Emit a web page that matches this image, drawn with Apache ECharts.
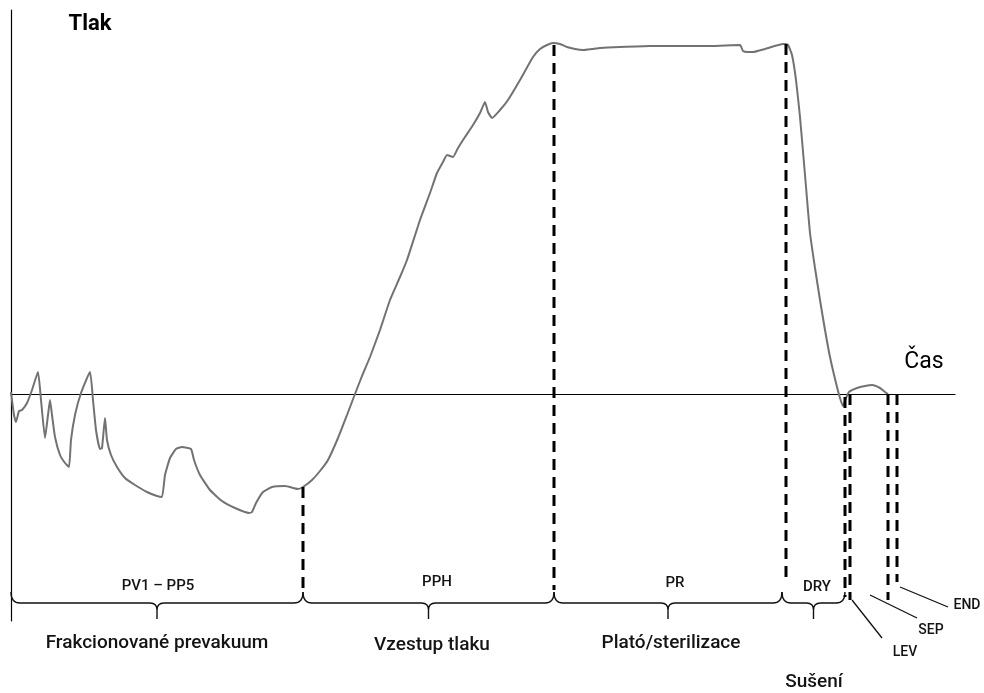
<!DOCTYPE html>
<html>
<head>
<meta charset="utf-8">
<script src="https://cdn.jsdelivr.net/npm/echarts@6/dist/echarts.min.js"></script>
<style>
  html, body { margin: 0; padding: 0; background: #fff; }
  #main { width: 984px; height: 693px; }
</style>
</head>
<body>
<div id="main"></div>
<script>
// čas (osa x) a tlak v komoře (osa y, 0 = atmosférický tlak)
const timeData = [
  0, 3, 5, 8, 11, 16, 21, 27, 30, 34, 37, 39, 41, 44, 49, 54, 58, 60, 64, 70,
  79, 82, 85, 89, 91, 94, 96, 100, 106, 114, 124, 136, 146, 151, 154, 159, 165, 171, 180, 183,
  189, 199, 211, 224, 238, 241, 245, 252, 261, 274, 287, 292, 301, 309, 317, 327, 336, 344, 351, 359,
  369, 379, 389, 396, 409, 419, 426, 432, 436, 442, 447, 454, 462, 469, 474, 477, 481, 489, 497, 509,
  522, 529, 536, 542, 549, 556, 564, 572, 581, 589, 609, 639, 669, 699, 729, 732, 737, 742, 754, 772,
  777, 781, 785, 789, 794, 799, 804, 809, 814, 819, 825, 829, 832, 835, 838, 846, 854, 861, 869, 874,
  877
];
const pressureData = [
  2, -21, -28, -17, -16, -9, 4, 22, -6, -44, -21, -6, -21, -43, -61, -69, -73, -46, -21, 1,
  22, -6, -36, -55, -54, -24, -46, -61, -73, -84, -91, -98, -102, -103, -81, -64, -55, -53, -55, -66,
  -81, -96, -107, -114, -119, -118, -109, -98, -93, -92, -95, -93, -86, -77, -66, -44, -21, 0, 18, 37,
  64, 94, 117, 134, 174, 201, 221, 232, 239, 237, 246, 257, 269, 281, 292, 282, 276, 284, 294, 314,
  337, 345, 349, 351, 350, 347, 345, 344, 345, 346, 347, 348, 348, 348, 349, 343, 342, 342, 345, 350,
  349, 339, 314, 277, 219, 161, 126, 94, 64, 37, 11, -4, -12, -4, 2, 6, 8, 9, 6, 2,
  0
];

// fáze cyklu (složené závorky pod grafem)
const phaseNames = ['PV1 – PP5', 'PPH', 'PR', 'DRY'];
const phaseStart = [0, 292, 543, 771];
const phaseEnd = [292, 543, 771, 834];
const stageNames = ['Frakcionované prevakuum', 'Vzestup tlaku', 'Plató/sterilizace', 'Sušení'];

// přerušované dělicí čáry: čas, horní a dolní mez
const dividerTime = [292, 543, 775, 834, 839, 877, 886];
const dividerTop = [-93, 349, 350, -3, 0, 0, 0];
const dividerBottom = [-196, -196, -184, -203, -206, -206, -188];

// odkazové čáry krátkých fází
const leaderNames = ['LEV', 'SEP', 'END'];
const leaderFrom = [[841, -206], [859, -201], [889, -193]];
const leaderTo = [[871, -244], [906, -224], [937, -213]];

const braceLevel = -209;

const chartInstance = echarts.init(document.getElementById('main'));

function label(text, x, y, size, weight, color) {
  return {
    type: 'text',
    x: x,
    y: y,
    silent: true,
    style: {
      text: text,
      fill: color || '#141414',
      font: (weight || 'normal') + ' ' + size + 'px Roboto, "Noto Sans", sans-serif',
      textAlign: 'center',
      textVerticalAlign: 'middle',
      align: 'center',
      verticalAlign: 'middle',
    },
  };
}

const option = {
  animation: false,
  backgroundColor: '#fff',
  grid: { left: 11, right: 29, top: 10, bottom: 72 },
  xAxis: {
    type: 'value',
    min: 0,
    max: 944,
    axisLine: { show: true, onZero: true, lineStyle: { color: '#000', width: 1.2 } },
    axisTick: { show: false },
    axisLabel: { show: false },
    splitLine: { show: false },
  },
  yAxis: {
    type: 'value',
    min: -227,
    max: 384,
    axisLine: { show: true, lineStyle: { color: '#000', width: 1.2 } },
    axisTick: { show: false },
    axisLabel: { show: false },
    splitLine: { show: false },
  },
  graphic: [
    label('Tlak', 90, 24, 22, 'bold', '#000'),
    label('Čas', 924, 362, 23, 'normal', '#000'),
    label(phaseNames[0], 158, 586, 15, 500),
    label(phaseNames[1], 437, 582, 15, 500),
    label(phaseNames[2], 675, 583, 15, 500),
    label(phaseNames[3], 817, 587, 15, 500),
    label(stageNames[0], 157, 643, 19, 500),
    label(stageNames[1], 432, 645, 19, 500),
    label(stageNames[2], 671, 643, 19, 500),
    label(stageNames[3], 814, 682, 19, 500),
    label(leaderNames[0], 905, 652, 14, 500),
    label(leaderNames[1], 931, 630, 14, 500),
    label(leaderNames[2], 967, 605, 14, 500),
  ],
  series: [
    {
      // průběh tlaku
      type: 'line',
      data: timeData.map((t, i) => [t, pressureData[i]]),
      showSymbol: false,
      smooth: 0.15,
      silent: true,
      lineStyle: { color: '#727272', width: 2 },
      z: 3,
    },
    {
      // přerušované dělicí čáry
      type: 'custom',
      clip: false,
      silent: true,
      data: dividerTime.map((t, i) => [t, dividerTop[i], dividerBottom[i]]),
      renderItem(params, api) {
        const a = api.coord([api.value(0), api.value(1)]);
        const b = api.coord([api.value(0), api.value(2)]);
        return {
          type: 'line',
          shape: { x1: a[0], y1: a[1], x2: b[0], y2: b[1] },
          style: { stroke: '#000', lineWidth: 3, lineDash: [11, 7] },
        };
      },
      z: 4,
    },
    {
      // složené závorky fází
      type: 'custom',
      clip: false,
      silent: true,
      data: phaseStart.map((s, i) => [s, phaseEnd[i], braceLevel]),
      renderItem(params, api) {
        const a = api.coord([api.value(0), api.value(2)]);
        const b = api.coord([api.value(1), api.value(2)]);
        const y = a[1];
        const m = (a[0] + b[0]) / 2;
        const d =
          'M' + a[0] + ' ' + (y - 11) + ' Q' + a[0] + ' ' + y + ' ' + (a[0] + 9) + ' ' + y +
          ' L' + (m - 7) + ' ' + y + ' Q' + m + ' ' + y + ' ' + m + ' ' + (y + 7) +
          ' L' + m + ' ' + (y + 16) +
          ' M' + m + ' ' + (y + 7) + ' Q' + m + ' ' + y + ' ' + (m + 7) + ' ' + y +
          ' L' + (b[0] - 9) + ' ' + y + ' Q' + b[0] + ' ' + y + ' ' + b[0] + ' ' + (y - 11);
        return {
          type: 'path',
          shape: { pathData: d },
          style: { fill: null, stroke: '#111', lineWidth: 1.4 },
        };
      },
      z: 2,
    },
    {
      // odkazové čáry LEV / SEP / END
      type: 'custom',
      clip: false,
      silent: true,
      data: leaderFrom.map((f, i) => [f[0], f[1], leaderTo[i][0], leaderTo[i][1]]),
      renderItem(params, api) {
        const a = api.coord([api.value(0), api.value(1)]);
        const b = api.coord([api.value(2), api.value(3)]);
        return {
          type: 'line',
          shape: { x1: a[0], y1: a[1], x2: b[0], y2: b[1] },
          style: { stroke: '#111', lineWidth: 1.3 },
        };
      },
      z: 2,
    },
  ],
};

chartInstance.setOption(option);
</script>
</body>
</html>
